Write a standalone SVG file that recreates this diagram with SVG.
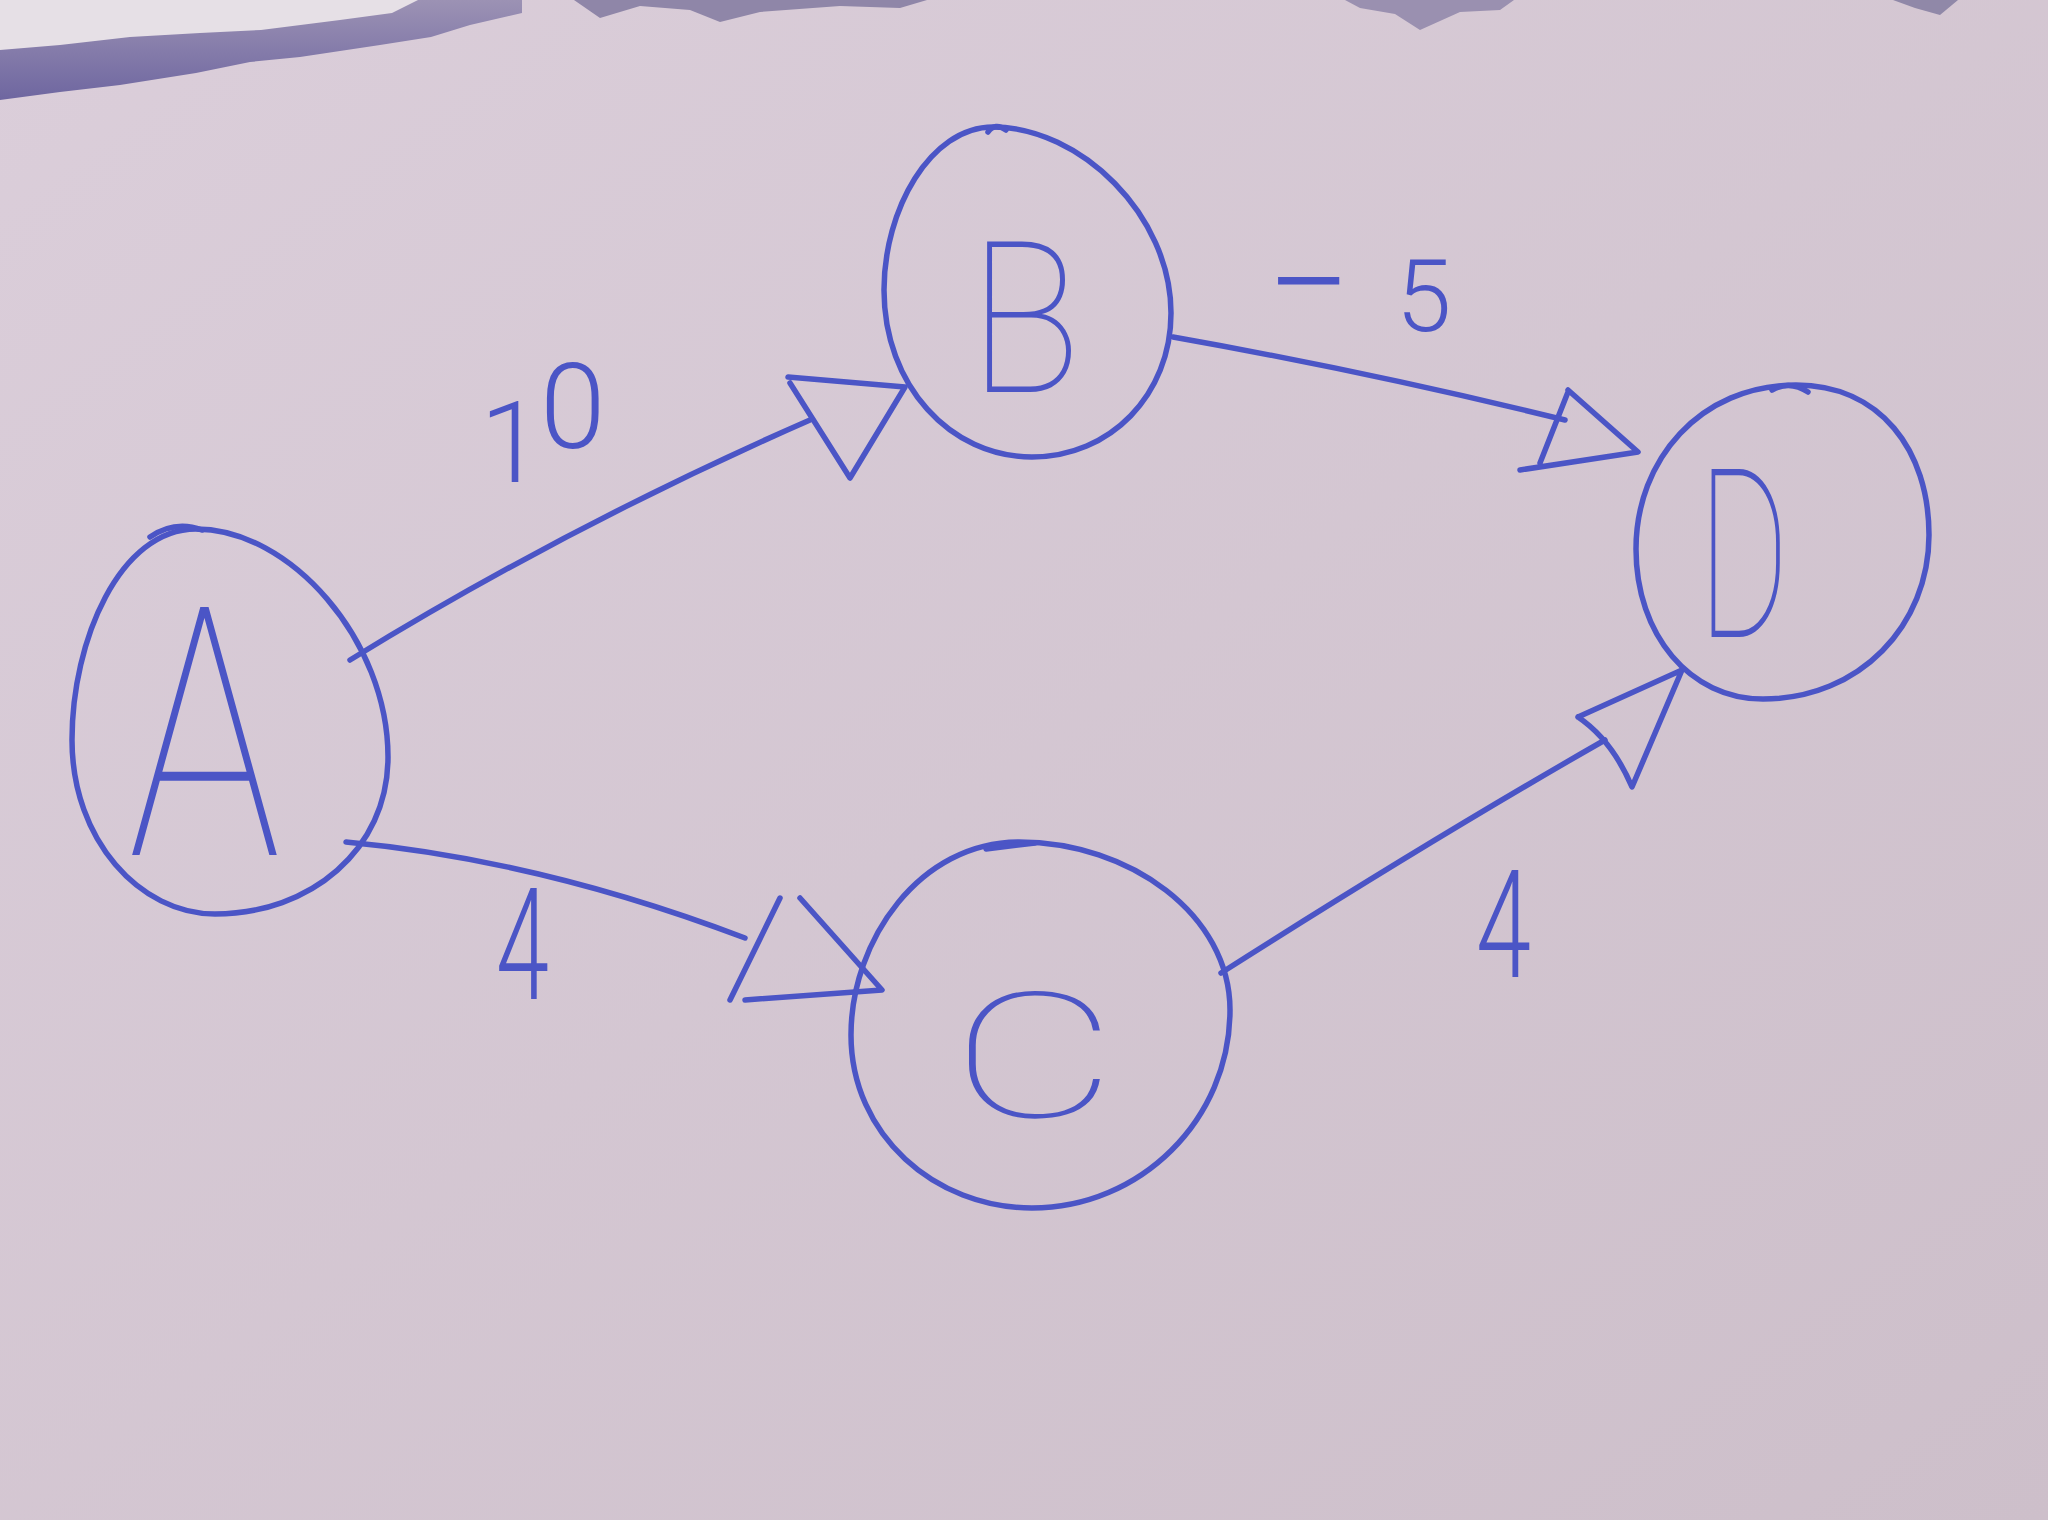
<svg xmlns="http://www.w3.org/2000/svg" width="2048" height="1520" viewBox="0 0 2048 1520">
<defs>
<linearGradient id="paper" x1="0" y1="0" x2="1" y2="1">
<stop offset="0" stop-color="#dbcedA"/>
<stop offset="1" stop-color="#cdbfca"/>
</linearGradient>
<linearGradient id="shadow" x1="0" y1="0" x2="0" y2="1">
<stop offset="0" stop-color="#9c92b4"/>
<stop offset="1" stop-color="#6e66a0"/>
</linearGradient>
</defs>
<style>
.ink{fill:none;stroke:#4b55c6;stroke-width:5.5;stroke-linecap:round;stroke-linejoin:round}
.lbl{fill:#4b55c6;font-family:Roboto,Inter,"Liberation Sans",sans-serif;font-weight:300}
.big{fill:#4b55c6;font-family:Roboto,Inter,"Liberation Sans",sans-serif;font-weight:100}
</style>
<rect width="2048" height="1520" fill="url(#paper)"/>
<g id="torn-edge">
<path d="M0,0 L522,0 L522,13 L470,25 L431,37 L380,45 L300,57 L250,62 L196,73 L120,85 L60,92 L0,100 Z" fill="url(#shadow)"/>
<path d="M0,0 L418,0 L392,13 L340,20 L261,30 L200,33 L130,37 L60,45 L0,50 Z" fill="#e6e0e6"/>
<path d="M574,0 L927,0 L900,8 L840,6 L760,12 L720,22 L690,10 L640,6 L600,18 Z" fill="#8f86a8"/>
<path d="M1345,0 L1514,0 L1500,10 L1460,12 L1420,30 L1395,14 L1360,8 Z" fill="#9a90b0"/>
<path d="M1893,0 L1958,0 L1940,15 L1915,8 Z" fill="#9088a8"/>
</g>
<g id="connectors">
<g id="edge-A-B">
<path class="ink" d="M350,660 Q570,525 810,420"/>
<path class="ink" d="M788,377 L905,387 L850,478 L790,383"/>
</g>
<g id="edge-A-C">
<path class="ink" d="M346,842 Q540,860 745,938"/>
<path class="ink" d="M730,1000 L780,898 M800,898 L882,990 L745,1000"/>
</g>
<g id="edge-B-D">
<path class="ink" d="M1173,337 Q1370,372 1565,420"/>
<path class="ink" d="M1568,390 L1638,452 L1520,470 M1540,463 L1568,392"/>
</g>
<g id="edge-C-D">
<path class="ink" d="M1221,973 Q1430,840 1605,740"/>
<path class="ink" d="M1578,717 L1682,670 L1632,787 Q1612,740 1578,717"/>
</g>
<text class="lbl" font-size="113"><tspan x="480" y="482">1</tspan><tspan x="540" y="448" font-size="118">0</tspan></text>
<text class="lbl"><tspan x="1266" y="335" font-size="150">−</tspan><tspan x="1396" y="331" font-size="100">5</tspan></text>
<text class="lbl" x="496" y="999" font-size="156" textLength="53" lengthAdjust="spacingAndGlyphs">4</text>
<text class="lbl" x="1476" y="977" font-size="150" textLength="55" lengthAdjust="spacingAndGlyphs">4</text>
</g>
<g id="node-A">
<path class="ink" d="M196,529 C120,529 72,640 72,740 C72,840 140,914 215,914 C310,914 388,850 388,757 C388,640 290,529 196,529 Z"/>
<path class="ink" d="M150,537 Q175,520 202,530"/>
<text class="big" x="128" y="855" font-size="349" textLength="153" lengthAdjust="spacingAndGlyphs">A</text>
</g>
<g id="node-B">
<path class="ink" d="M993,127 C930,127 884,210 884,290 C884,385 950,457 1032,457 C1110,457 1171,395 1171,313 C1171,215 1080,127 993,127 Z"/>
<path class="ink" d="M988,132 Q995,122 1006,130"/>
<text class="big" x="969" y="392" font-size="211" textLength="112" lengthAdjust="spacingAndGlyphs">B</text>
</g>
<g id="node-C">
<path class="ink" d="M1019,842 C920,842 851,940 851,1035 C851,1135 935,1208 1032,1208 C1140,1208 1230,1120 1230,1010 C1230,915 1130,842 1019,842 Z"/>
<path class="ink" d="M986,849 L1035,843"/>
<text class="big" x="951" y="1117" font-size="175" textLength="166" lengthAdjust="spacingAndGlyphs">C</text>
</g>
<g id="node-D">
<path class="ink" d="M1796,385 C1700,385 1636,460 1636,549 C1636,635 1690,699 1763,699 C1860,699 1929,625 1929,535 C1929,450 1880,385 1796,385 Z"/>
<path class="ink" d="M1772,390 Q1790,380 1808,392"/>
<text class="big" x="1698" y="637" font-size="235" textLength="91" lengthAdjust="spacingAndGlyphs">D</text>
</g>
</svg>
